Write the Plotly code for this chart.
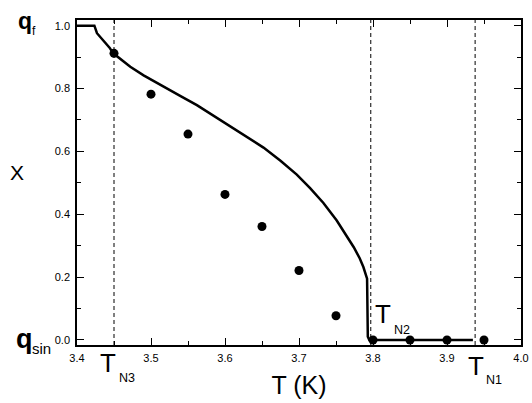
import plotly.graph_objects as go

# Solid curve (model) : temperature T (K) and fraction X
curve_T = [3.400, 3.4235, 3.427, 3.432, 3.438, 3.444, 3.449, 3.460, 3.472, 3.490,
           3.517, 3.540, 3.562, 3.580, 3.598, 3.625, 3.652, 3.675, 3.697, 3.715,
           3.733, 3.751, 3.765, 3.774, 3.782, 3.787, 3.792, 3.793, 3.795, 3.850,
           3.900, 3.935]
curve_X = [1.000, 1.000, 0.976, 0.962, 0.944, 0.930, 0.912, 0.890, 0.869, 0.842,
           0.805, 0.776, 0.747, 0.720, 0.694, 0.655, 0.612, 0.570, 0.526, 0.483,
           0.436, 0.380, 0.330, 0.295, 0.260, 0.232, 0.195, 0.010, 0.000, 0.000,
           0.000, 0.000]

# Measured points
points_T = [3.45, 3.50, 3.55, 3.60, 3.65, 3.70, 3.75, 3.80, 3.85, 3.90, 3.95]
points_X = [0.912, 0.782, 0.655, 0.463, 0.361, 0.221, 0.077, 0.0, 0.0, 0.0, 0.0]

# Transition temperatures
trans_T = [3.450, 3.797, 3.938]
trans_labels = ["N3", "N2", "N1"]

x_ticks = [3.4, 3.5, 3.6, 3.7, 3.8, 3.9, 4.0]
y_ticks = [0.0, 0.2, 0.4, 0.6, 0.8, 1.0]

FONT = "Liberation Sans, Arial, Helvetica, sans-serif"
W, H = 532, 403
L, R, T, B = 77, 11, 20, 58

fig = go.Figure()
fig.add_trace(go.Scatter(x=curve_T, y=curve_X, mode="lines",
                         line=dict(color="black", width=2.5), showlegend=False))
fig.add_trace(go.Scatter(x=points_T, y=points_X, mode="markers",
                         marker=dict(color="black", size=9), showlegend=False,
                         cliponaxis=False))

for t in trans_T:
    fig.add_shape(type="line", xref="x", yref="paper", x0=t, x1=t, y0=0, y1=1,
                  line=dict(color="black", width=1, dash="4px,3px"))


def px_ann(xp, yp, text, size, bold=False):
    # xp, yp: centre of the text in page pixels
    x = (xp - L) / (W - L - R)
    y = (H - B - yp) / (H - T - B)
    fig.add_annotation(x=x, y=y, xref="paper", yref="paper",
                       text=f"<b>{text}</b>" if bold else text, showarrow=False,
                       font=dict(family=FONT, size=size, color="black"),
                       xanchor="center", yanchor="middle")


# T_N labels: (T centre x, y, subscript centre x, y) in pixels
label_px = [
    (108, 363, 127, 378),
    (382.5, 313.5, 401.5, 330),
    (476, 365.5, 494, 380),
]
for (tx, ty, sx, sy), lab in zip(label_px, trans_labels):
    px_ann(tx, ty, "T", 26)
    px_ann(sx, sy, lab, 12.5)

px_ann(24.5, 21, "q", 23, bold=True)
px_ann(34, 31, "f", 12)
px_ann(24, 339, "q", 27, bold=True)
px_ann(41.5, 348, "sin", 15)
px_ann(17, 173, "X", 21)

fig.update_layout(
    width=W, height=H,
    margin=dict(l=L, r=R, t=T, b=B),
    plot_bgcolor="white", paper_bgcolor="white",
    font=dict(family=FONT, color="black"),
    xaxis=dict(range=[3.4, 4.0], tickvals=x_ticks, tickformat=".1f",
               ticks="inside", ticklen=7, tickwidth=1.2, tickcolor="black",
               showline=True, linecolor="black", linewidth=1.5, mirror="ticks",
               showgrid=False, zeroline=False, automargin=False,
               ticklabelstandoff=2,
               tickfont=dict(size=11, family=FONT),
               minor=dict(dtick=0.05, ticks="inside", ticklen=4, tickwidth=1.2,
                          tickcolor="black", showgrid=False),
               title=dict(text="T (K)", font=dict(size=25, family=FONT), standoff=14)),
    yaxis=dict(range=[-0.016, 1.018], tickvals=y_ticks, tickformat=".1f",
               ticks="inside", ticklen=7, tickwidth=1.2, tickcolor="black",
               showline=True, linecolor="black", linewidth=1.5, mirror="ticks",
               showgrid=False, zeroline=False, automargin=False,
               ticklabelstandoff=3,
               tickfont=dict(size=11, family=FONT),
               minor=dict(dtick=0.1, ticks="inside", ticklen=4, tickwidth=1.2,
                          tickcolor="black", showgrid=False)),
)

fig.write_html("out.html")
